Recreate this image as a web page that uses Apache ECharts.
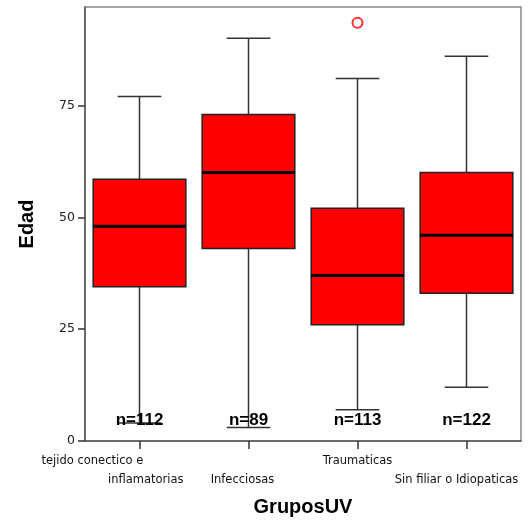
<!DOCTYPE html>
<html>
<head>
<meta charset="utf-8">
<script src="https://cdn.jsdelivr.net/npm/echarts@6/dist/echarts.min.js"></script>
<style>
  html, body { margin: 0; padding: 0; background: #fff; overflow: hidden; }
  #chart { width: 531px; height: 521px; }
</style>
</head>
<body>
<div id="chart"></div>
<script>
// grupos (eje x)
const categories = [
  "tejido conectico e\ninflamatorias",
  "Infecciosas",
  "Traumaticas",
  "Sin filiar o Idiopaticas"
];
// [min, Q1, mediana, Q3, max] de Edad
const boxValues = [
  [4, 34.5, 48, 58.5, 77],
  [3, 43, 60, 73, 90],
  [7, 26, 37, 52, 81],
  [12, 33, 46, 60, 86]
];
const nCounts = [112, 89, 113, 122];
const outliers = [[2, 93.5]];
const yTicks = [0, 25, 50, 75];

const myChart = echarts.init(document.getElementById("chart"));

const boxData = boxValues.map((v, i) => [i].concat(v));

const renderBox = function (params, api) {
  const x = api.value(0);
  const band = api.size([1, 0])[0];
  const boxW = band * 0.85;
  const capW = band * 0.4;
  const pLow = api.coord([x, api.value(1)]);
  const pQ1 = api.coord([x, api.value(2)]);
  const pMed = api.coord([x, api.value(3)]);
  const pQ3 = api.coord([x, api.value(4)]);
  const pHigh = api.coord([x, api.value(5)]);
  const cx = pMed[0];
  const whisker = { stroke: "#333", lineWidth: 1.5 };
  return {
    type: "group",
    children: [
      { type: "line", shape: { x1: cx, y1: pHigh[1], x2: cx, y2: pQ3[1] }, style: whisker },
      { type: "line", shape: { x1: cx, y1: pQ1[1], x2: cx, y2: pLow[1] }, style: whisker },
      { type: "line", shape: { x1: cx - capW / 2, y1: pHigh[1], x2: cx + capW / 2, y2: pHigh[1] }, style: whisker },
      { type: "line", shape: { x1: cx - capW / 2, y1: pLow[1], x2: cx + capW / 2, y2: pLow[1] }, style: whisker },
      {
        type: "rect",
        shape: { x: cx - boxW / 2, y: pQ3[1], width: boxW, height: pQ1[1] - pQ3[1] },
        style: { fill: "#ff0000", stroke: "#222", lineWidth: 1.5 }
      },
      {
        type: "line",
        shape: { x1: cx - boxW / 2, y1: pMed[1], x2: cx + boxW / 2, y2: pMed[1] },
        style: { stroke: "#000", lineWidth: 3 }
      }
    ]
  };
};

const labelFont = "DejaVu Sans";
const lf = 11.5;

const option = {
  animation: false,
  backgroundColor: "#fff",
  grid: {
    left: 85,
    right: 10,
    top: 7,
    bottom: 80,
    outerBoundsMode: "none",
    show: true,
    borderColor: "#888",
    borderWidth: 1.5
  },
  xAxis: {
    type: "category",
    data: categories,
    name: "GruposUV",
    nameLocation: "middle",
    nameGap: 66,
    nameTextStyle: {
      fontFamily: "Liberation Sans",
      fontWeight: "bold",
      fontSize: 20,
      color: "#000",
      verticalAlign: "middle"
    },
    axisLine: { show: true, lineStyle: { color: "#555", width: 1.5 } },
    axisTick: { show: true, alignWithLabel: true, length: 8, lineStyle: { color: "#333", width: 1.5 } },
    splitLine: { show: false },
    axisLabel: {
      interval: 0,
      margin: 11,
      color: "#111",
      fontFamily: labelFont,
      fontSize: lf,
      lineHeight: 19,
      formatter: function (value, idx) {
        const parts = value.split("\n");
        if (idx === 0) return "{a|" + parts[0] + "}\n{b|" + parts[1] + "}";
        if (idx === 1) return "{e| }\n{c|" + value + "}";
        if (idx === 2) return "{n|" + value + "}\n{e| }";
        return "{e| }\n{d|" + value + "}";
      },
      rich: {
        a: { fontFamily: labelFont, fontSize: lf, lineHeight: 19, width: 196, align: "left" },
        b: { fontFamily: labelFont, fontSize: lf, lineHeight: 19, align: "right", padding: [0, 54, 0, 0] },
        c: { fontFamily: labelFont, fontSize: lf, lineHeight: 19, padding: [0, 12, 0, 0] },
        d: { fontFamily: labelFont, fontSize: lf, lineHeight: 19, padding: [0, 20, 0, 0] },
        n: { fontFamily: labelFont, fontSize: lf, lineHeight: 19 },
        e: { fontFamily: labelFont, fontSize: lf, lineHeight: 19 }
      }
    }
  },
  yAxis: {
    type: "value",
    min: 0,
    max: 97,
    interval: 25,
    name: "Edad",
    nameLocation: "middle",
    nameGap: 58,
    nameTextStyle: {
      fontFamily: "Liberation Sans",
      fontWeight: "bold",
      fontSize: 20,
      color: "#000",
      verticalAlign: "middle"
    },
    axisLine: { show: true, lineStyle: { color: "#555", width: 1.5 } },
    axisTick: { show: true, length: 7, lineStyle: { color: "#333", width: 1.5 } },
    splitLine: { show: false },
    axisLabel: {
      margin: 10,
      color: "#222",
      fontFamily: labelFont,
      fontSize: 12.5,
      showMaxLabel: false,
      formatter: function (v) {
        return yTicks.indexOf(v) >= 0 ? String(v) : "";
      }
    }
  },
  series: [
    {
      type: "custom",
      renderItem: renderBox,
      encode: { x: 0, y: [1, 2, 3, 4, 5] },
      data: boxData,
      z: 2
    },
    {
      type: "scatter",
      data: outliers,
      symbol: "emptyCircle",
      symbolSize: 10,
      itemStyle: { color: "#ff3333", borderColor: "#ff3333", borderWidth: 1.5, opacity: 1 },
      z: 3
    },
    {
      type: "scatter",
      data: nCounts.map((n, i) => [i, 4.7]),
      symbolSize: 0,
      silent: true,
      z: 4,
      itemStyle: { opacity: 1 },
      label: {
        show: true,
        position: "inside",
        fontFamily: "Liberation Sans",
        fontWeight: "bold",
        fontSize: 17,
        color: "#000",
        opacity: 1,
        textBorderWidth: 0,
        formatter: function (p) {
          return "n=" + nCounts[p.dataIndex];
        }
      }
    }
  ]
};

myChart.setOption(option);
</script>
</body>
</html>
